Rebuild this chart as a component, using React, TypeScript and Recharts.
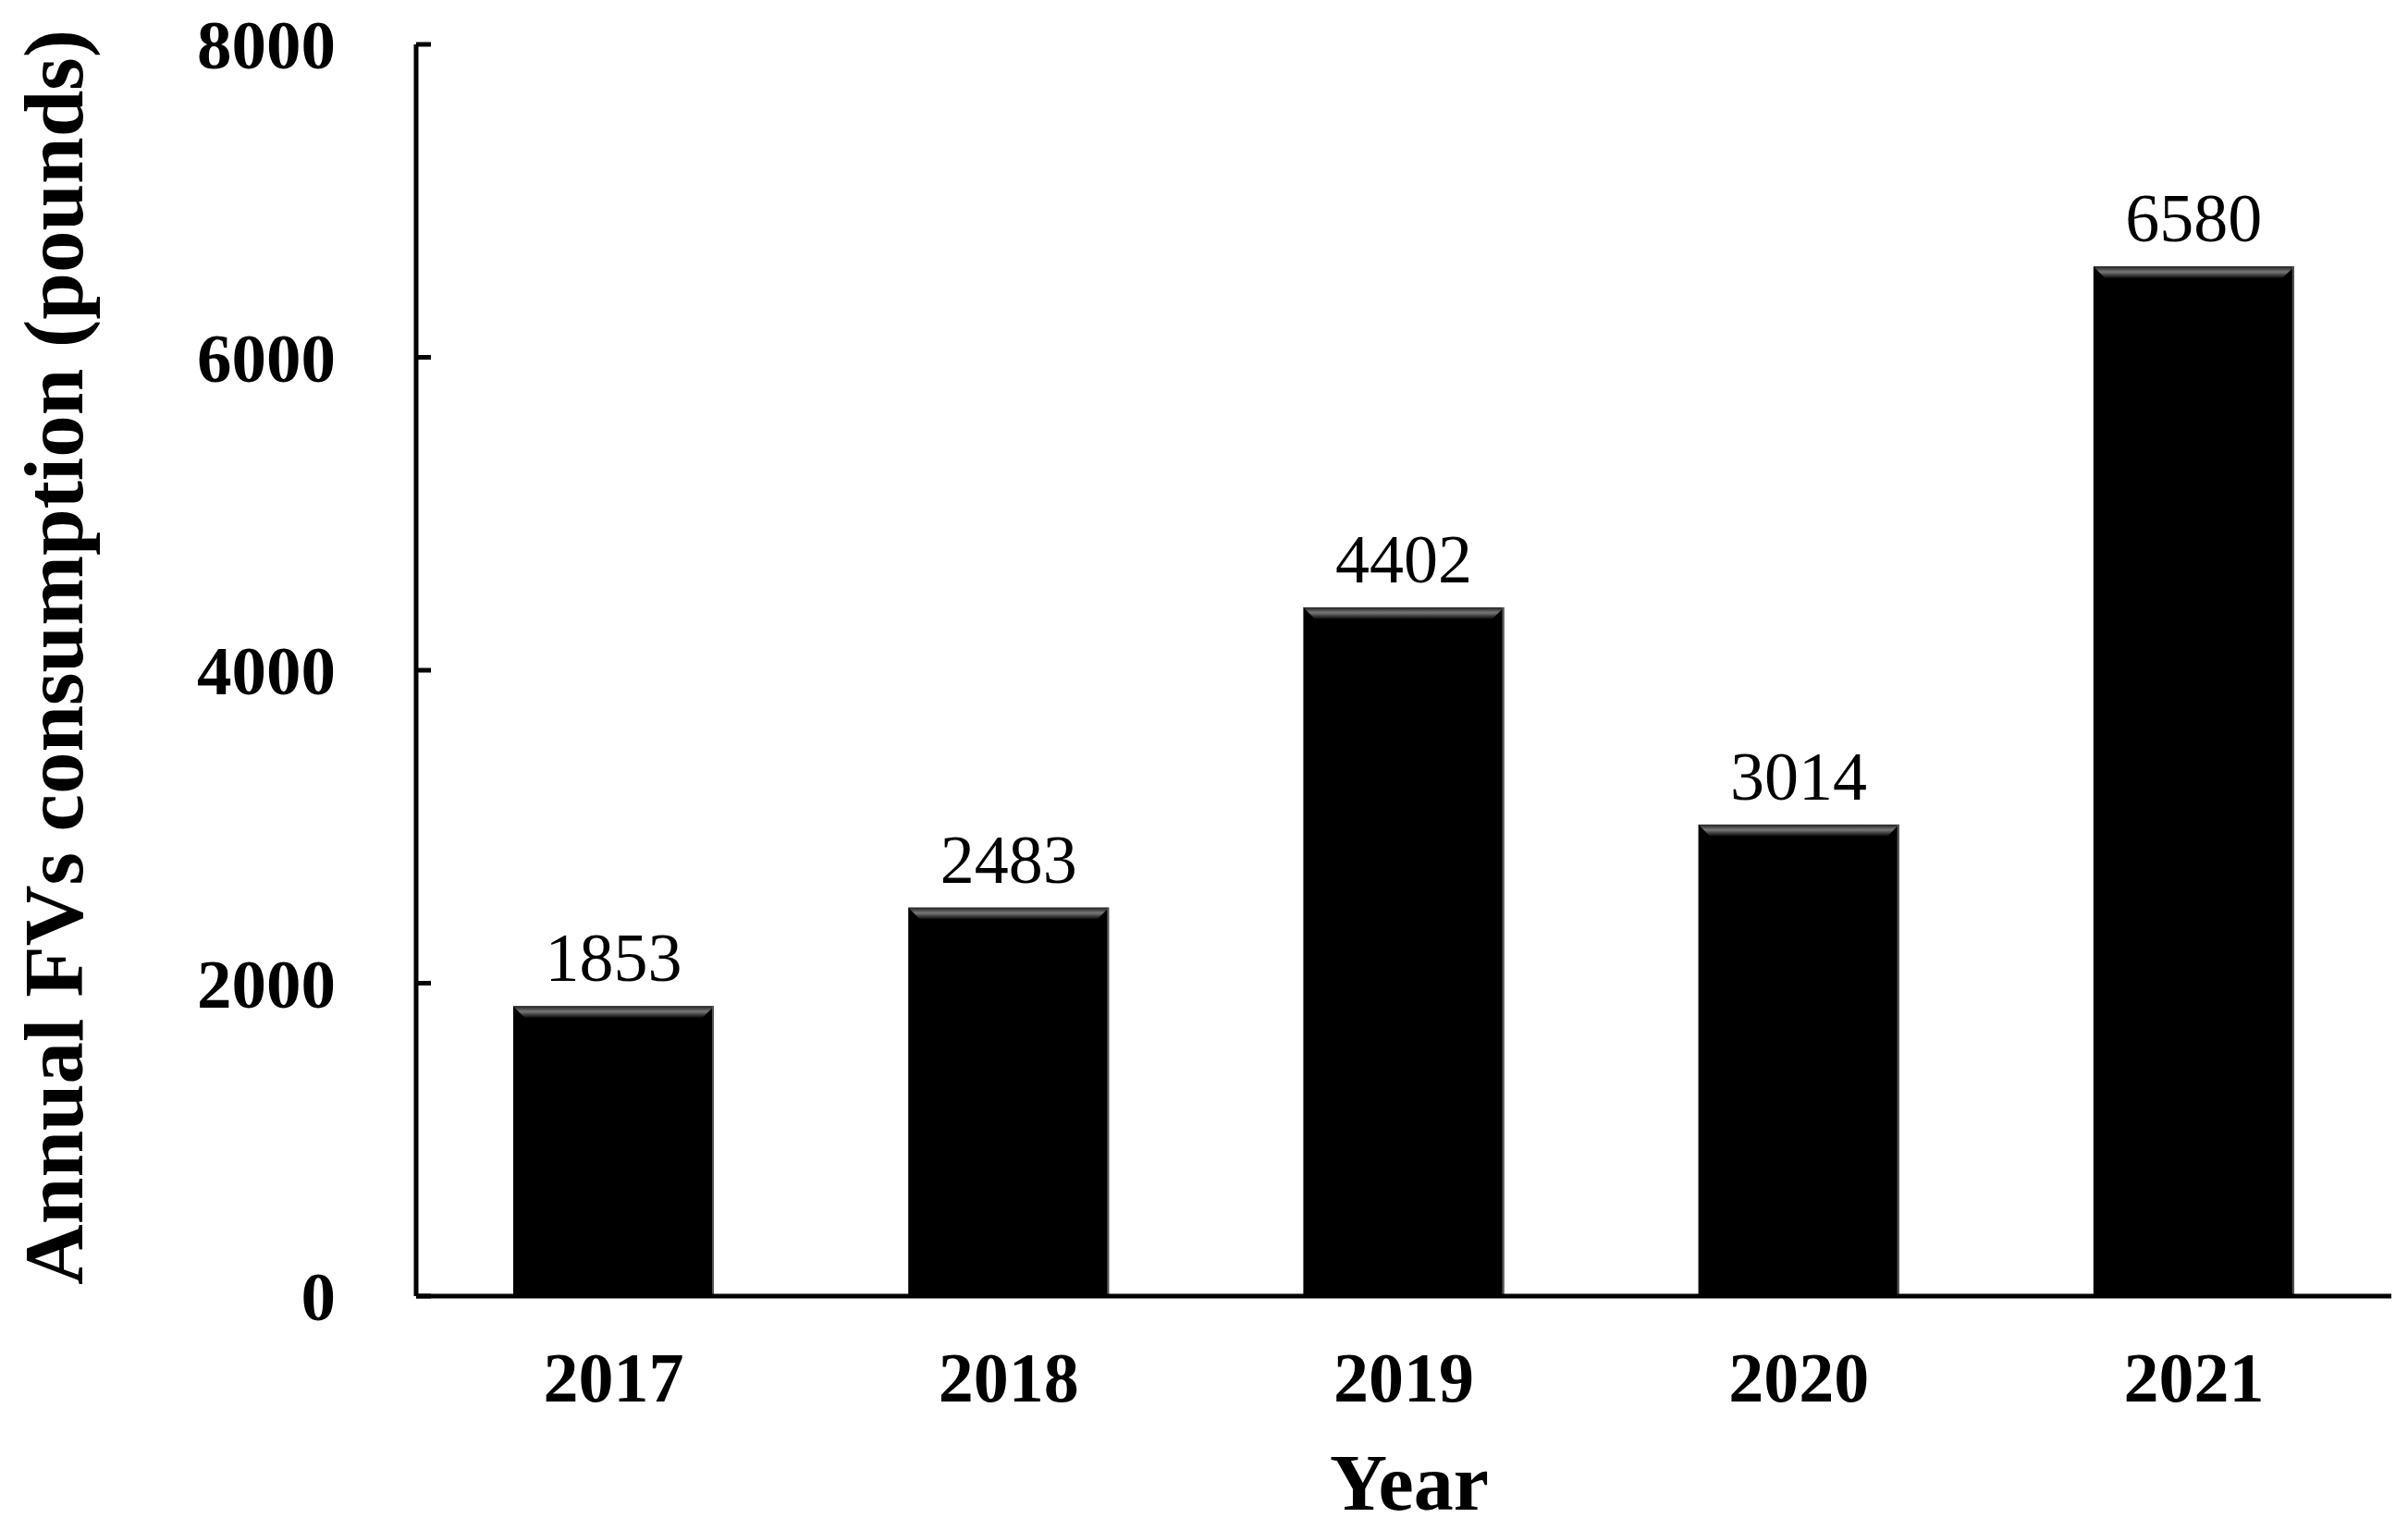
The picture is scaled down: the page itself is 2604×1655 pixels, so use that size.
import React from "react";
import { Bar, BarChart, LabelList, XAxis, YAxis } from "recharts";

document.body.style.margin = "0";

const years = ["2017", "2018", "2019", "2020", "2021"];
const consumption = [1853, 2483, 4402, 3014, 6580];
const yTicks = [0, 2000, 4000, 6000, 8000];

const data = years.map((year, i) => ({ year, value: consumption[i] }));

const SERIF = '"Liberation Serif", "Times New Roman", serif';

function YTick({ x, y, payload }: any) {
  // text sits 87px left of the axis, tick mark points into the plot
  const axisX = x + 87;
  return (
    <g>
      <line x1={axisX} x2={axisX + 16} y1={y} y2={y} stroke="#000" strokeWidth={5} />
      <text
        x={x}
        y={y}
        dy="0.35em"
        textAnchor="end"
        fontFamily={SERIF}
        fontWeight="bold"
        fontSize={75}
        fill="#000"
      >
        {payload.value}
      </text>
    </g>
  );
}

function XTick({ x, y, payload }: any) {
  return (
    <text
      x={x}
      y={y}
      dy="0.71em"
      textAnchor="middle"
      fontFamily={SERIF}
      fontWeight="bold"
      fontSize={76}
      fill="#000"
    >
      {payload.value}
    </text>
  );
}

function BevelBar({ x, y, width, height }: any) {
  const b = 13;
  return (
    <g>
      <rect x={x} y={y} width={width} height={height} fill="#000" />
      <polygon
        points={`${x},${y} ${x + width},${y} ${x + width - b},${y + b} ${x + b},${y + b}`}
        fill="url(#bevelTop)"
      />
      <rect x={x + width - 2} y={y} width={2} height={height} fill="#555" />
    </g>
  );
}

function ValueLabel({ x, y, width, value }: any) {
  return (
    <text
      x={x + width / 2}
      y={y - 27}
      textAnchor="middle"
      fontFamily={SERIF}
      fontSize={74}
      fill="#000"
    >
      {value}
    </text>
  );
}

function YLabel({ viewBox }: any) {
  const cx = viewBox.x + 58;
  const cy = viewBox.y + viewBox.height / 2 - 14;
  return (
    <text
      x={cx}
      y={cy}
      transform={`rotate(-90, ${cx}, ${cy})`}
      textAnchor="middle"
      dominantBaseline="central"
      fontFamily={SERIF}
      fontWeight="bold"
      fontSize={91}
      fill="#000"
    >
      Annual FVs consumption (pounds)
    </text>
  );
}

function XLabel({ viewBox }: any) {
  return (
    <text
      x={viewBox.x + viewBox.width / 2 + 6}
      y={viewBox.y + 231}
      textAnchor="middle"
      fontFamily={SERIF}
      fontWeight="bold"
      fontSize={86}
      fill="#000"
    >
      Year
    </text>
  );
}

export default function App() {
  return (
    <div style={{ width: 2604, height: 1655, background: "#fff" }}>
      <BarChart
        width={2604}
        height={1655}
        data={data}
        margin={{ top: 48, right: 18, left: 0, bottom: 0 }}
      >
        <defs>
          <linearGradient id="bevelTop" x1="0" y1="0" x2="0" y2="1">
            <stop offset="0%" stopColor="#222" />
            <stop offset="45%" stopColor="#777" />
            <stop offset="100%" stopColor="#000" />
          </linearGradient>
        </defs>
        <XAxis
          dataKey="year"
          height={253}
          tickLine={false}
          tickSize={0}
          tickMargin={60}
          axisLine={{ stroke: "#000", strokeWidth: 5 }}
          tick={<XTick />}
          label={<XLabel />}
        />
        <YAxis
          width={450}
          domain={[0, 8000]}
          ticks={yTicks}
          interval={0}
          tickLine={false}
          tickSize={0}
          tickMargin={87}
          axisLine={{ stroke: "#000", strokeWidth: 5 }}
          tick={<YTick />}
          label={<YLabel />}
        />
        <Bar dataKey="value" barSize={217} shape={<BevelBar />} isAnimationActive={false}>
          <LabelList dataKey="value" content={<ValueLabel />} />
        </Bar>
      </BarChart>
    </div>
  );
}
